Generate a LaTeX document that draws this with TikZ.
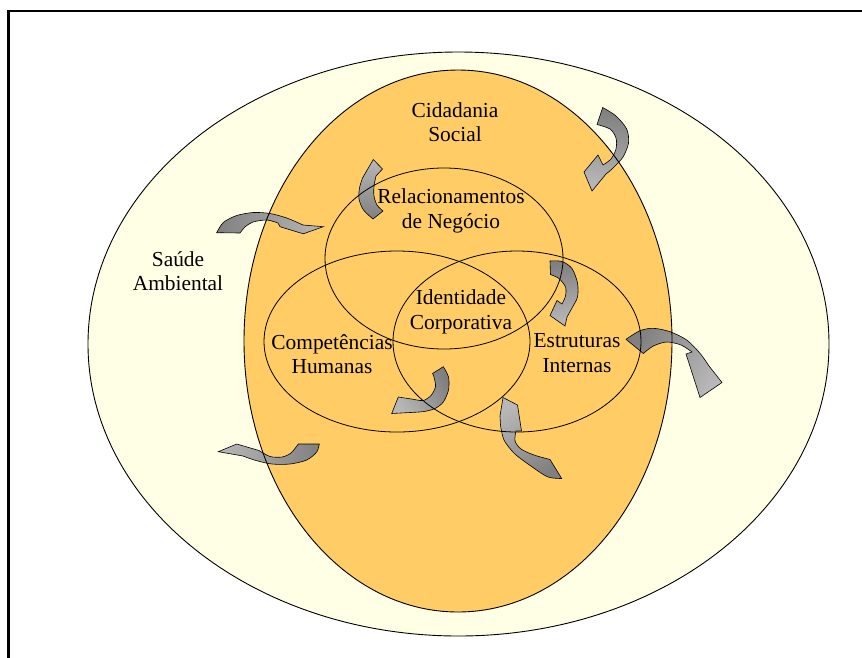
\documentclass[tikz,border=0pt]{standalone}
\usepackage{fontspec}
\setmainfont{Liberation Serif}
\definecolor{cream}{HTML}{FFFFE5}
\definecolor{apricot}{HTML}{FFCC66}
\definecolor{tailgray}{HTML}{808080}
\definecolor{headgray}{HTML}{B8B8B8}
\tikzset{
  zone/.style={draw=black, line width=0.9pt},
  ring/.style={draw=black, line width=0.8pt},
  bentarrow/.style={draw=black, line width=0.6pt, line join=miter,
    top color=tailgray, bottom color=headgray},
  zonetext/.style={align=center, inner sep=0pt,
    font=\fontsize{21.4}{24.5}\selectfont},
}
\begin{document}
\begin{tikzpicture}[x=1pt, y=-1pt]
\useasboundingbox (0,0) rectangle (862,657);
\fill[white] (0,0) rectangle (862,657);

% frame
\draw[line width=2.2pt] (8.5,670) -- (8.5,11) -- (875,11);

% fills
\fill[cream] (458.5,344) ellipse [x radius=370.5pt, y radius=292pt];
\fill[apricot] (458,341) ellipse [x radius=214pt, y radius=271pt];

% bent block arrows
\shadedraw[bentarrow, shading angle=-10]
  plot[smooth] coordinates {(602.7,107.5) (616,116) (626.7,129) (628.5,143) (623,157) (613,168) (606,174)}
  -- (592,191) -- (584,172) -- (598,155)
  -- plot[smooth] coordinates {(603,165) (611,159) (616,149) (616,138) (610,129) (597,124.5)} -- cycle;

\shadedraw[bentarrow, shading angle=90]
  plot[smooth] coordinates {(216.7,232.7) (223.3,222.5) (236.7,215.5) (253.3,212.5) (270,213.5) (286.7,218) (303,225)}
  -- (323.3,226.7) -- (303.3,233.8) -- (280,226.7)
  -- plot[smooth] coordinates {(278,223) (267,220) (253,222) (245,227) (240,233)} -- cycle;

\shadedraw[bentarrow, shading angle=180]
  (373.3,159.5) -- (382.5,169)
  -- plot[smooth] coordinates {(376,176) (374,186) (374,196) (377,205) (383,211)}
  -- plot[smooth] coordinates {(373,219) (363.5,210) (359,199) (359.5,188) (362.5,178)} -- cycle;

\shadedraw[bentarrow, shading angle=10]
  plot[smooth] coordinates {(550,261) (562,261.5) (572,268.5) (577.5,283) (577.5,297) (572,308) (567,317)}
  -- (565,326) -- (550,315.5) -- (557,300.5)
  -- plot[smooth] coordinates {(562,304) (565.5,296) (565.5,287) (559,278.5) (550.5,274.5)} -- cycle;

\shadedraw[bentarrow, shading angle=60]
  plot[smooth] coordinates {(626,339.3) (640,330.7) (653.3,328.3) (670,331.7) (686.7,340) (700,353.3) (709,366)}
  -- (722,382.5) -- (700,397.5) -- (686,354)
  -- plot[smooth] coordinates {(692,352) (681,345) (666.7,342) (653.3,346) (643.3,353.5)} -- cycle;

\shadedraw[bentarrow, shading angle=-60]
  plot[smooth] coordinates {(443.3,366.7) (448.5,377) (448.5,390) (443.3,402) (435,408.5) (424,411.5) (410,412.5)}
  -- (391.7,413.5) -- (398.3,397)
  -- plot[smooth] coordinates {(413.3,399.3) (423.3,400.5) (431,395.5) (435.5,386.7) (434,377) (432.5,373.5)} -- cycle;

\shadedraw[bentarrow, shading angle=210]
  plot[smooth] coordinates {(561.7,478.5) (548,477) (533,467.5) (515,454) (504,440) (500.5,425)}
  -- (500,416) -- (503,397.5) -- (517.5,405) -- (521.5,431)
  -- plot[smooth] coordinates {(516,431) (515,441) (521,449) (534,455) (550,459.5)} -- cycle;

\shadedraw[bentarrow, shading angle=-90]
  plot[smooth] coordinates {(319.3,444) (316.7,452) (306.7,460) (290,464) (272,464) (256,460.5) (243,456)}
  -- (218.3,451.7) -- (236.7,444)
  -- plot[smooth] coordinates {(259,450.5) (270,456.5) (282,457) (291,453) (298.3,444)} -- cycle;

% outlines
\draw[zone] (458.5,344) ellipse [x radius=370.5pt, y radius=292pt];
\draw[zone] (458,341) ellipse [x radius=214pt, y radius=271pt];
\draw[ring] (444,258.5) ellipse [x radius=119pt, y radius=90.5pt];
\draw[ring] (397,341.5) ellipse [x radius=133pt, y radius=90.5pt];
\draw[ring] (517,341.5) ellipse [x radius=124pt, y radius=90.5pt];

% texts
\node[zonetext] (cid) at (455,122) {Cidadania\\Social};
\node[zonetext] (saude) at (178,271) {Saúde\\Ambiental};
\node[zonetext] (rel) at (451,211) {Relacionamentos\\de Negócio};
\node[zonetext] (ident) at (461,312) {Identidade\\Corporativa};
\node[zonetext] (comp) at (332,354) {Competências\\Humanas};
\node[zonetext] (estr) at (577,353) {Estruturas\\Internas};
\end{tikzpicture}
\end{document}
